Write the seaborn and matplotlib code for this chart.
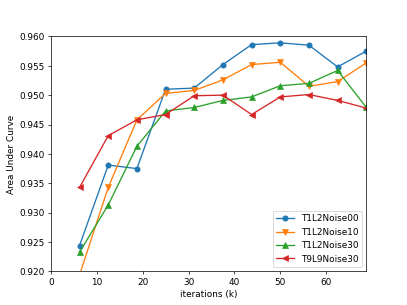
import matplotlib
matplotlib.use("Agg")
import matplotlib.pyplot as plt
import seaborn as sns
import pandas as pd

# iterations in thousands
iterations = [6.25, 12.5, 18.75, 25.0, 31.25, 37.5, 43.75, 50.0, 56.25, 62.5, 68.75]

noise00 = [0.9244, 0.9381, 0.9375, 0.9510, 0.9512, 0.9552, 0.9586, 0.9589, 0.9585, 0.9548, 0.9575]
noise10 = [0.9194, 0.9343, 0.9458, 0.9503, 0.9508, 0.9526, 0.9552, 0.9556, 0.9515, 0.9523, 0.9555]
noise30 = [0.9233, 0.9313, 0.9413, 0.9473, 0.9479, 0.9491, 0.9497, 0.9516, 0.9520, 0.9542, 0.9479]
t9_noise30 = [0.9343, 0.9431, 0.9458, 0.9467, 0.9499, 0.9500, 0.9467, 0.9497, 0.9501, 0.9491, 0.9478]

series_names = ["T1L2Noise00", "T1L2Noise10", "T1L2Noise30", "T9L9Noise30"]
series_values = [noise00, noise10, noise30, t9_noise30]
markers = ["o", "v", "^", "<"]
colors = sns.color_palette("tab10", 4)

fig, ax = plt.subplots(figsize=(6.4, 4.8), dpi=407 / 6.4)

for name, vals, m, c in zip(series_names, series_values, markers, colors):
    df = pd.DataFrame({"iterations": iterations, "auc": vals})
    sns.lineplot(data=df, x="iterations", y="auc", marker=m, color=c,
                 markeredgecolor=c, markersize=6, linewidth=1.5,
                 label=name, ax=ax)

ax.set_xlim(0, 68.75)
ax.set_ylim(0.920, 0.960)
ax.set_xlabel("iterations (k)")
ax.set_ylabel("Area Under Curve")
ax.legend(loc="lower right")

fig.savefig("out.png", dpi=407 / 6.4)
